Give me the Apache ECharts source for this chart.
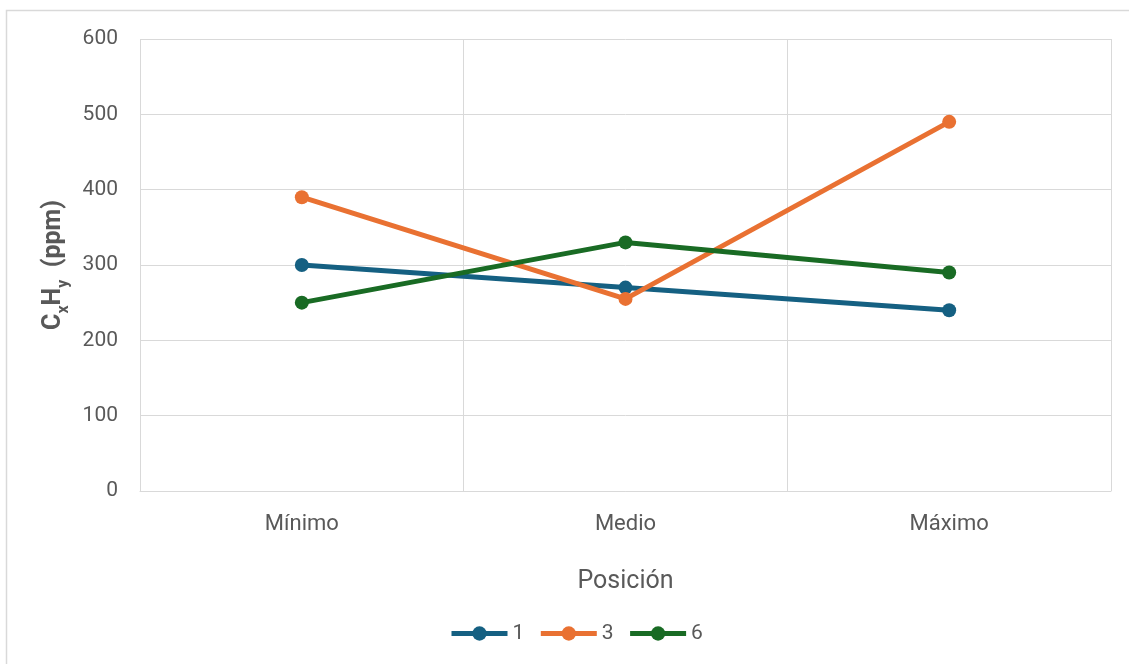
<!DOCTYPE html>
<html><head><meta charset="utf-8">
<script src="https://cdn.jsdelivr.net/npm/echarts@6/dist/echarts.min.js"></script>
<style>html,body{margin:0;padding:0;background:#fff}#c{width:1129px;height:664px}</style>
</head><body><div id="c"></div>
<script>
const categories = ['Mínimo', 'Medio', 'Máximo'];
const seriesNames = ['1', '3', '6'];
const s1 = [300, 270, 240];
const s3 = [390, 255, 490];
const s6 = [250, 330, 290];
const yTicks = [0, 100, 200, 300, 400, 500, 600];
const colors = ['#156082', '#E97132', '#196B24'];

const chart = echarts.init(document.getElementById('c'));
const mk = (name, data, color) => ({
  name, type: 'line', data, color,
  symbol: 'circle', symbolSize: 14,
  lineStyle: { width: 5, color },
  itemStyle: { color },
  z: 3
});
chart.setOption({
  animation: false,
  graphic: [{ type: 'rect', shape: { x: 6.5, y: 10.5, width: 1200, height: 700 },
    style: { fill: 'none', stroke: '#d9d9d9', lineWidth: 1.5 }, silent: true }],
  grid: { left: 140, top: 39, right: 18, bottom: 173, containLabel: false },
  legend: {
    top: 618, left: 444, itemWidth: 56, itemHeight: 18, itemGap: 14,
    textStyle: { fontSize: 21, color: '#595959', fontFamily: 'Roboto' },
    lineStyle: { width: 5 },
    data: seriesNames
  },
  xAxis: {
    type: 'category', data: categories, boundaryGap: true,
    name: 'Posición', nameLocation: 'middle', nameGap: 78,
    nameTextStyle: { fontSize: 25, color: '#595959', fontFamily: 'Roboto' },
    axisLine: { show: true, lineStyle: { color: '#d9d9d9', width: 1 } },
    axisTick: { show: false },
    axisLabel: { fontSize: 22, color: '#595959', margin: 22, fontFamily: 'Roboto' },
    splitLine: { show: true, lineStyle: { color: '#d9d9d9', width: 1 } }
  },
  yAxis: {
    type: 'value', min: yTicks[0], max: yTicks[yTicks.length - 1], interval: 100,
    name: '{b|C}{s|x}{b|H}{s|y}{b|  (ppm)}', nameLocation: 'middle', nameGap: 63,
    nameTextStyle: {
      fontFamily: 'Roboto', color: '#595959',
      rich: {
        b: { fontSize: 25, fontWeight: 'bold', color: '#595959', fontFamily: 'Roboto', lineHeight: 30, verticalAlign: 'bottom' },
        s: { fontSize: 16, fontWeight: 'bold', color: '#595959', fontFamily: 'Roboto', lineHeight: 30, verticalAlign: 'bottom', padding: [0, 0, -5, 0] }
      }
    },
    axisLine: { show: false }, axisTick: { show: false },
    axisLabel: { fontSize: 21, color: '#595959', margin: 22, fontFamily: 'Roboto' },
    splitLine: { lineStyle: { color: '#d9d9d9', width: 1 } }
  },
  series: [mk(seriesNames[0], s1, colors[0]), mk(seriesNames[1], s3, colors[1]), mk(seriesNames[2], s6, colors[2])]
});
</script></body></html>
